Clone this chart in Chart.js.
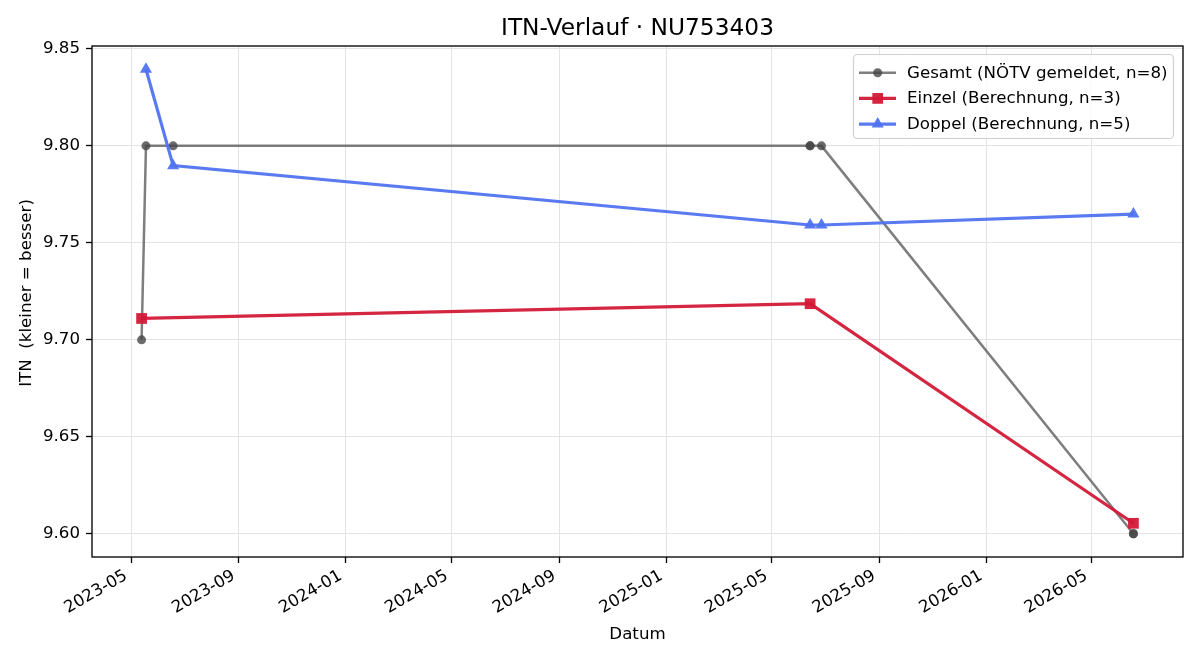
<!DOCTYPE html>
<html><head><meta charset="utf-8">
<script src="https://cdn.jsdelivr.net/npm/chart.js@4/dist/chart.umd.min.js"></script>
<style>html,body{margin:0;padding:0;background:#fff}#wrap{width:1200px;height:660px}</style>
</head><body><div id="wrap"><canvas id="c" width="1200" height="660"></canvas></div>
<script>
// ---- data ----
const gesamtDates  = ['2023-05-13','2023-05-18','2023-06-18','2025-06-14','2025-06-14','2025-06-27','2026-06-18','2026-06-18'];
const gesamtValues = [9.70, 9.80, 9.80, 9.80, 9.80, 9.80, 9.60, 9.60];
const einzelDates  = ['2023-05-13','2025-06-14','2026-06-18'];
const einzelValues = [9.711, 9.7186, 9.6054];
const doppelDates  = ['2023-05-18','2023-06-18','2025-06-14','2025-06-27','2026-06-18'];
const doppelValues = [9.8395, 9.7898, 9.7592, 9.7592, 9.7648];
const xTickLabels  = ['2023-05','2023-09','2024-01','2024-05','2024-09','2025-01','2025-05','2025-09','2026-01','2026-05'];
const yTickValues  = [9.60, 9.65, 9.70, 9.75, 9.80, 9.85];
const seriesLabels = ['Gesamt (NÖTV gemeldet, n=8)','Einzel (Berechnung, n=3)','Doppel (Berechnung, n=5)'];
const titleText = 'ITN-Verlauf · NU753403';
const xLabel = 'Datum';
const yLabel = 'ITN  (kleiner = besser)';

// ---- helpers ----
const toMs = s => { const p = s.split('-').map(Number); return Date.UTC(p[0], p[1]-1, p[2] || 1); };
const fmt = v => new Date(v).toISOString().slice(0,7);
const pts = (d, v) => d.map((s, i) => ({x: toMs(s), y: v[i]}));

const allX = [...gesamtDates, ...einzelDates, ...doppelDates].map(toMs);
const allY = [...gesamtValues, ...einzelValues, ...doppelValues];
const xMinD = Math.min(...allX), xMaxD = Math.max(...allX), xSpan = xMaxD - xMinD;
const yMinD = Math.min(...allY), yMaxD = Math.max(...allY), ySpan = yMaxD - yMinD;

const FONT = "'DejaVu Sans', sans-serif";
const FS = 16.67;
Chart.defaults.font.family = FONT;
Chart.defaults.font.size = FS;
Chart.defaults.color = '#000';

const GRAY_LINE = 'rgba(90,90,90,0.78)';
const GRAY_PT = 'rgba(70,70,70,0.8)';
const RED = 'rgba(210,25,55,0.95)';
const BLUE = 'rgba(80,115,240,0.95)';

const styles = [
  {line: GRAY_LINE, pt: GRAY_PT, lw: 2.5, shape: 'circle', r: 4.5},
  {line: RED, pt: RED, lw: 3.2, shape: 'rect', r: 7.6},
  {line: BLUE, pt: BLUE, lw: 3.2, shape: 'triangle', r: 7.0}
];

function drawMarker(ctx, shape, x, y, r, color) {
  ctx.save();
  ctx.fillStyle = color;
  ctx.beginPath();
  if (shape === 'circle') {
    ctx.arc(x, y, r, 0, Math.PI * 2);
  } else if (shape === 'rect') {
    const s = r * Math.SQRT1_2;
    ctx.rect(x - s, y - s, 2 * s, 2 * s);
  } else {
    const w = r * Math.sin(Math.PI / 3);
    ctx.moveTo(x, y - r);
    ctx.lineTo(x - w, y + r / 2);
    ctx.lineTo(x + w, y + r / 2);
    ctx.closePath();
  }
  ctx.fill();
  ctx.restore();
}

const deco = {
  id: 'deco',
  afterDraw(chart) {
    const ctx = chart.ctx, a = chart.chartArea;
    ctx.save();
    // spines
    ctx.strokeStyle = '#000';
    ctx.lineWidth = 1.33;
    ctx.strokeRect(a.left, a.top, a.right - a.left, a.bottom - a.top);
    // title
    const cx = (a.left + a.right) / 2;
    ctx.fillStyle = '#000';
    ctx.textAlign = 'center';
    ctx.textBaseline = 'alphabetic';
    ctx.font = `23.3px ${FONT}`;
    ctx.fillText(titleText, cx, 35);
    // x label
    ctx.font = `${FS}px ${FONT}`;
    ctx.fillText(xLabel, cx, 639);
    // y label
    ctx.save();
    ctx.translate(30.5, 293);
    ctx.rotate(-Math.PI / 2);
    ctx.fillText(yLabel, 0, 0);
    ctx.restore();
    // legend
    const bx = 853.5, by = 54.5, bw = 320, bh = 84, rad = 4;
    ctx.beginPath();
    ctx.moveTo(bx + rad, by);
    ctx.arcTo(bx + bw, by, bx + bw, by + bh, rad);
    ctx.arcTo(bx + bw, by + bh, bx, by + bh, rad);
    ctx.arcTo(bx, by + bh, bx, by, rad);
    ctx.arcTo(bx, by, bx + bw, by, rad);
    ctx.closePath();
    ctx.fillStyle = 'rgba(255,255,255,0.8)';
    ctx.fill();
    ctx.strokeStyle = '#d0d0d0';
    ctx.lineWidth = 1.2;
    ctx.stroke();
    ctx.textAlign = 'left';
    for (let i = 0; i < 3; i++) {
      const st = styles[i];
      const my = 72.7 + i * 25.7;
      ctx.strokeStyle = st.line;
      ctx.lineWidth = st.lw;
      ctx.beginPath();
      ctx.moveTo(859, my);
      ctx.lineTo(896, my);
      ctx.stroke();
      drawMarker(ctx, st.shape, 877.7, my, st.r, st.pt);
      ctx.fillStyle = '#000';
      ctx.fillText(seriesLabels[i], 907, my + 4.8);
    }
    ctx.restore();
  }
};

const gridOpts = {color: '#e3e3e3', lineWidth: 1, tickColor: '#000', tickLength: 6, tickWidth: 1.3};

function ds(i, data) {
  const st = styles[i];
  return {
    label: seriesLabels[i], data,
    borderColor: st.line, borderWidth: st.lw, tension: 0,
    pointStyle: st.shape, pointRadius: st.r, pointHoverRadius: st.r,
    pointBackgroundColor: st.pt, pointBorderColor: st.pt, pointBorderWidth: 0,
    order: 3 - i
  };
}

new Chart(document.getElementById('c'), {
  type: 'line',
  data: {datasets: [
    ds(0, pts(gesamtDates, gesamtValues)),
    ds(1, pts(einzelDates, einzelValues)),
    ds(2, pts(doppelDates, doppelValues))
  ]},
  options: {
    responsive: false, animation: false, devicePixelRatio: 1,
    layout: {padding: {top: 46, right: 17, left: 0, bottom: 0}},
    plugins: {legend: {display: false}, title: {display: false}, tooltip: {enabled: false}},
    scales: {
      x: {
        type: 'linear', min: xMinD - 0.05 * xSpan, max: xMaxD + 0.05 * xSpan,
        afterBuildTicks: s => { s.ticks = xTickLabels.map(l => ({value: toMs(l)})); },
        afterFit: s => { s.height = 103; },
        ticks: {autoSkip: false, minRotation: 30, maxRotation: 30, padding: 3, labelOffset: -5, color: '#000',
                callback: v => fmt(v)},
        grid: gridOpts, border: {display: false}
      },
      y: {
        type: 'linear', min: yMinD - 0.05 * ySpan, max: yMaxD + 0.05 * ySpan,
        afterBuildTicks: s => { s.ticks = yTickValues.map(v => ({value: v})); },
        afterFit: s => { s.width = 92; },
        ticks: {padding: 6, color: '#000', callback: v => Number(v).toFixed(2)},
        grid: gridOpts, border: {display: false}
      }
    }
  },
  plugins: [deco]
});
</script>
</body></html>
